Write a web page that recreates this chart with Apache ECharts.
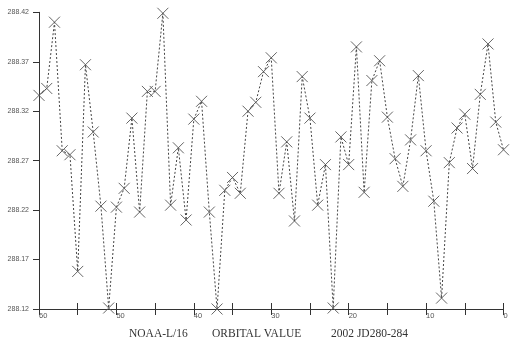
<!DOCTYPE html>
<html>
<head>
<meta charset="utf-8">
<script src="https://cdn.jsdelivr.net/npm/echarts@6/dist/echarts.min.js"></script>
<style>
html,body{margin:0;padding:0;background:#fff;}
#c{width:513px;height:345px;}
</style>
</head>
<body>
<div id="c"></div>
<script>
// x positions (days back, 60 .. 0)
const xValues = [60,59,58,57,56,55,54,53,52,51,50,49,48,47,46,45,44,43,42,41,40,39,38,37,36,35,34,33,32,31,30,29,28,27,26,25,24,23,22,21,20,19,18,17,16,15,14,13,12,11,10,9,8,7,6,5,4,3,2,1,0];
// orbital values
const orbitalValues = [288.336,288.343,288.410,288.280,288.276,288.158,288.367,288.299,288.224,288.121,
  288.223,288.242,288.313,288.218,288.340,288.340,288.419,288.225,288.283,288.210,
  288.312,288.330,288.218,288.120,288.240,288.253,288.237,288.320,288.329,288.360,
  288.374,288.237,288.289,288.209,288.355,288.313,288.225,288.266,288.121,288.294,
  288.266,288.385,288.238,288.351,288.371,288.314,288.272,288.244,288.291,288.356,
  288.280,288.229,288.131,288.268,288.303,288.317,288.262,288.337,288.388,288.309,288.281];
// axis tick labels
const yTickLabels = ['288.12','288.17','288.22','288.27','288.32','288.37','288.42'];
const xTickLabels = ['0','10','20','30','40','50','60'];
const captionParts = ['NOAA-L/16','ORBITAL VALUE','2002 JD280-284'];

const BASE = 288.12; // y-axis origin value
const seriesData = xValues.map((x, i) => [x, +(orbitalValues[i] - BASE).toFixed(4)]);

const chart = echarts.init(document.getElementById('c'), null, {renderer: 'canvas'});
const axisColor = '#333';
const labelFont = {fontSize: 7, color: '#555', fontFamily: '"Liberation Sans Narrow","Liberation Sans",sans-serif'};

chart.setOption({
  animation: false,
  backgroundColor: '#fff',
  grid: {left: 39, right: 9.5, top: 12.3, bottom: 36},
  xAxis: [{
    type: 'value', min: 0, max: 60, interval: 5, inverse: true,
    axisLine: {show: true, onZero: false, lineStyle: {color: axisColor, width: 1}},
    axisTick: {show: true, inside: false, length: 6, lineStyle: {color: axisColor}},
    splitLine: {show: false},
    axisLabel: Object.assign({
      margin: 3, align: 'left',
      formatter: v => xTickLabels.indexOf(String(v)) >= 0 ? String(v) : ''
    }, labelFont, {fontSize: 7.5})
  }, {
    type: 'value', min: 0, max: 60, interval: 5, inverse: true, position: 'bottom',
    axisLine: {show: false, onZero: false},
    axisTick: {show: true, inside: true, length: 6, lineStyle: {color: axisColor}},
    splitLine: {show: false},
    axisLabel: {show: false}
  }],
  yAxis: {
    type: 'value', min: 0, max: 0.30, interval: 0.05,
    axisLine: {show: true, onZero: false, lineStyle: {color: axisColor, width: 1}},
    axisTick: {show: true, inside: false, length: 6, lineStyle: {color: axisColor}},
    splitLine: {show: false},
    axisLabel: Object.assign({
      margin: 10,
      formatter: v => { const idx = Math.round(v / 0.05); return yTickLabels[idx] || ''; }
    }, labelFont)
  },
  series: [{
    type: 'line',
    xAxisIndex: 0,
    data: seriesData,
    symbol: 'path://M0,0L10,10M10,0L0,10',
    symbolSize: 11,
    showAllSymbol: true,
    itemStyle: {color: 'rgba(0,0,0,0)', borderColor: '#555', borderWidth: 0.9},
    lineStyle: {color: '#444', width: 1, type: [2, 2]},
    emphasis: {disabled: true}
  }],
  graphic: captionParts.map((t, i) => ({
    type: 'text',
    left: [129, 212, 331][i],
    top: 328,
    style: {text: t, fontSize: 11.5, fill: '#333', fontFamily: '"Liberation Serif","Times New Roman",serif'}
  }))
});
</script>
</body>
</html>
